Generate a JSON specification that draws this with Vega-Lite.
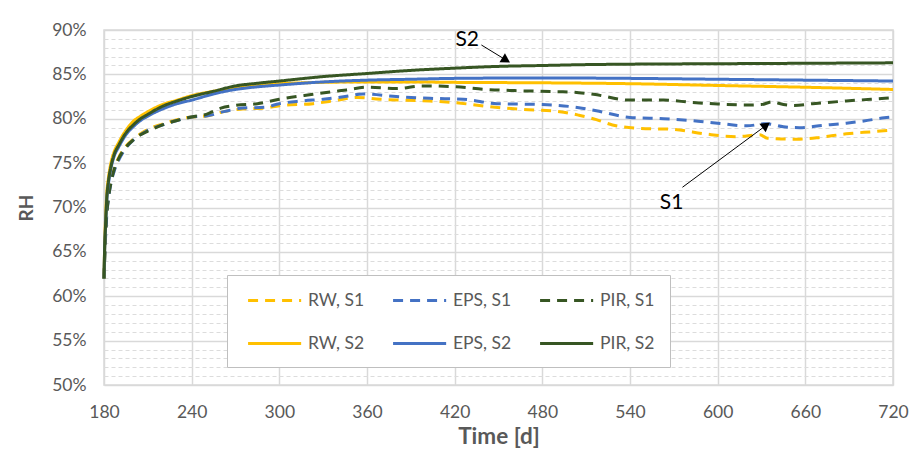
{
  "$schema": "https://vega.github.io/schema/vega-lite/v6.json",
  "width": 789,
  "height": 355,
  "autosize": "none",
  "padding": {"left": 104, "top": 30, "right": 30, "bottom": 76},
  "background": "white",
  "config": {
    "font": "Lato",
    "view": {"stroke": "#d9d9d9", "strokeWidth": 1.5},
    "axis": {"domain": false, "ticks": false, "labelFlush": false, "labelColor": "#595959", "titleColor": "#595959", "labelFontSize": 17.5, "titleFontSize": 22.5, "titleFontWeight": "bold", "gridColor": "#d9d9d9"}
  },
  "datasets": {
    "curves": [
      {"t":180,"v":62.0,"s":"RW, S1"},{"t":181,"v":66.8,"s":"RW, S1"},{"t":182,"v":69.6,"s":"RW, S1"},{"t":183,"v":71.2,"s":"RW, S1"},{"t":185,"v":73.2,"s":"RW, S1"},{"t":187,"v":74.4,"s":"RW, S1"},{"t":190,"v":75.6,"s":"RW, S1"},{"t":195,"v":76.9,"s":"RW, S1"},{"t":200,"v":77.7,"s":"RW, S1"},{"t":205,"v":78.3,"s":"RW, S1"},{"t":210,"v":78.8,"s":"RW, S1"},{"t":220,"v":79.4,"s":"RW, S1"},{"t":230,"v":79.9,"s":"RW, S1"},{"t":240,"v":80.2,"s":"RW, S1"},{"t":250,"v":80.3,"s":"RW, S1"},{"t":262,"v":80.8,"s":"RW, S1"},{"t":275,"v":81.1,"s":"RW, S1"},{"t":290,"v":81.2,"s":"RW, S1"},{"t":300,"v":81.47,"s":"RW, S1"},{"t":323,"v":81.7,"s":"RW, S1"},{"t":340,"v":82.1,"s":"RW, S1"},{"t":353,"v":82.4,"s":"RW, S1"},{"t":369,"v":82.2,"s":"RW, S1"},{"t":403,"v":82.0,"s":"RW, S1"},{"t":421,"v":81.8,"s":"RW, S1"},{"t":442,"v":81.4,"s":"RW, S1"},{"t":465,"v":81.06,"s":"RW, S1"},{"t":492,"v":80.8,"s":"RW, S1"},{"t":505,"v":80.4,"s":"RW, S1"},{"t":517,"v":79.9,"s":"RW, S1"},{"t":528,"v":79.3,"s":"RW, S1"},{"t":547,"v":78.92,"s":"RW, S1"},{"t":570,"v":78.8,"s":"RW, S1"},{"t":592,"v":78.28,"s":"RW, S1"},{"t":613,"v":77.98,"s":"RW, S1"},{"t":629,"v":78.2,"s":"RW, S1"},{"t":634,"v":77.8,"s":"RW, S1"},{"t":654,"v":77.7,"s":"RW, S1"},{"t":670,"v":77.9,"s":"RW, S1"},{"t":688,"v":78.3,"s":"RW, S1"},{"t":706,"v":78.54,"s":"RW, S1"},{"t":720,"v":78.73,"s":"RW, S1"},

      {"t":180,"v":62.0,"s":"EPS, S1"},{"t":181,"v":66.4,"s":"EPS, S1"},{"t":182,"v":69.3,"s":"EPS, S1"},{"t":183,"v":70.9,"s":"EPS, S1"},{"t":185,"v":72.9,"s":"EPS, S1"},{"t":187,"v":74.1,"s":"EPS, S1"},{"t":190,"v":75.3,"s":"EPS, S1"},{"t":195,"v":76.7,"s":"EPS, S1"},{"t":200,"v":77.6,"s":"EPS, S1"},{"t":205,"v":78.2,"s":"EPS, S1"},{"t":210,"v":78.7,"s":"EPS, S1"},{"t":220,"v":79.3,"s":"EPS, S1"},{"t":230,"v":79.8,"s":"EPS, S1"},{"t":240,"v":80.2,"s":"EPS, S1"},{"t":250,"v":80.3,"s":"EPS, S1"},{"t":262,"v":80.8,"s":"EPS, S1"},{"t":275,"v":81.2,"s":"EPS, S1"},{"t":290,"v":81.3,"s":"EPS, S1"},{"t":300,"v":81.7,"s":"EPS, S1"},{"t":315,"v":82.0,"s":"EPS, S1"},{"t":330,"v":82.2,"s":"EPS, S1"},{"t":345,"v":82.5,"s":"EPS, S1"},{"t":357,"v":82.8,"s":"EPS, S1"},{"t":380,"v":82.5,"s":"EPS, S1"},{"t":403,"v":82.3,"s":"EPS, S1"},{"t":426,"v":82.2,"s":"EPS, S1"},{"t":449,"v":81.7,"s":"EPS, S1"},{"t":480,"v":81.6,"s":"EPS, S1"},{"t":505,"v":81.25,"s":"EPS, S1"},{"t":517,"v":80.9,"s":"EPS, S1"},{"t":540,"v":80.15,"s":"EPS, S1"},{"t":563,"v":80.0,"s":"EPS, S1"},{"t":582,"v":79.8,"s":"EPS, S1"},{"t":600,"v":79.5,"s":"EPS, S1"},{"t":620,"v":79.2,"s":"EPS, S1"},{"t":633,"v":79.45,"s":"EPS, S1"},{"t":645,"v":79.1,"s":"EPS, S1"},{"t":656,"v":79.0,"s":"EPS, S1"},{"t":672,"v":79.25,"s":"EPS, S1"},{"t":688,"v":79.5,"s":"EPS, S1"},{"t":700,"v":79.75,"s":"EPS, S1"},{"t":714,"v":80.1,"s":"EPS, S1"},{"t":720,"v":80.2,"s":"EPS, S1"},

      {"t":180,"v":62.0,"s":"PIR, S1"},{"t":181,"v":66.6,"s":"PIR, S1"},{"t":182,"v":69.5,"s":"PIR, S1"},{"t":183,"v":71.0,"s":"PIR, S1"},{"t":185,"v":73.0,"s":"PIR, S1"},{"t":187,"v":74.3,"s":"PIR, S1"},{"t":190,"v":75.5,"s":"PIR, S1"},{"t":195,"v":76.8,"s":"PIR, S1"},{"t":200,"v":77.6,"s":"PIR, S1"},{"t":205,"v":78.2,"s":"PIR, S1"},{"t":210,"v":78.6,"s":"PIR, S1"},{"t":220,"v":79.3,"s":"PIR, S1"},{"t":230,"v":79.8,"s":"PIR, S1"},{"t":240,"v":80.2,"s":"PIR, S1"},{"t":250,"v":80.5,"s":"PIR, S1"},{"t":260,"v":81.2,"s":"PIR, S1"},{"t":270,"v":81.5,"s":"PIR, S1"},{"t":285,"v":81.7,"s":"PIR, S1"},{"t":300,"v":82.2,"s":"PIR, S1"},{"t":323,"v":82.75,"s":"PIR, S1"},{"t":346,"v":83.25,"s":"PIR, S1"},{"t":360,"v":83.55,"s":"PIR, S1"},{"t":380,"v":83.4,"s":"PIR, S1"},{"t":398,"v":83.7,"s":"PIR, S1"},{"t":421,"v":83.6,"s":"PIR, S1"},{"t":442,"v":83.3,"s":"PIR, S1"},{"t":465,"v":83.15,"s":"PIR, S1"},{"t":490,"v":83.05,"s":"PIR, S1"},{"t":505,"v":82.94,"s":"PIR, S1"},{"t":515,"v":82.75,"s":"PIR, S1"},{"t":540,"v":82.1,"s":"PIR, S1"},{"t":563,"v":82.1,"s":"PIR, S1"},{"t":582,"v":81.85,"s":"PIR, S1"},{"t":600,"v":81.66,"s":"PIR, S1"},{"t":620,"v":81.55,"s":"PIR, S1"},{"t":630,"v":81.6,"s":"PIR, S1"},{"t":637,"v":81.9,"s":"PIR, S1"},{"t":645,"v":81.6,"s":"PIR, S1"},{"t":652,"v":81.5,"s":"PIR, S1"},{"t":665,"v":81.7,"s":"PIR, S1"},{"t":688,"v":82.0,"s":"PIR, S1"},{"t":705,"v":82.2,"s":"PIR, S1"},{"t":720,"v":82.37,"s":"PIR, S1"},

      {"t":180,"v":62.0,"s":"RW, S2"},{"t":180.5,"v":66.0,"s":"RW, S2"},{"t":181,"v":68.5,"s":"RW, S2"},{"t":182,"v":71.8,"s":"RW, S2"},{"t":183,"v":73.3,"s":"RW, S2"},{"t":185,"v":75.2,"s":"RW, S2"},{"t":187,"v":76.3,"s":"RW, S2"},{"t":190,"v":77.3,"s":"RW, S2"},{"t":195,"v":78.7,"s":"RW, S2"},{"t":200,"v":79.7,"s":"RW, S2"},{"t":205,"v":80.3,"s":"RW, S2"},{"t":210,"v":80.8,"s":"RW, S2"},{"t":220,"v":81.6,"s":"RW, S2"},{"t":230,"v":82.1,"s":"RW, S2"},{"t":240,"v":82.6,"s":"RW, S2"},{"t":255,"v":83.1,"s":"RW, S2"},{"t":270,"v":83.5,"s":"RW, S2"},{"t":285,"v":83.8,"s":"RW, S2"},{"t":300,"v":83.95,"s":"RW, S2"},{"t":330,"v":84.1,"s":"RW, S2"},{"t":360,"v":84.15,"s":"RW, S2"},{"t":390,"v":84.15,"s":"RW, S2"},{"t":420,"v":84.1,"s":"RW, S2"},{"t":480,"v":84.05,"s":"RW, S2"},{"t":540,"v":83.95,"s":"RW, S2"},{"t":600,"v":83.75,"s":"RW, S2"},{"t":660,"v":83.55,"s":"RW, S2"},{"t":720,"v":83.3,"s":"RW, S2"},

      {"t":180,"v":62.0,"s":"EPS, S2"},{"t":180.5,"v":65.5,"s":"EPS, S2"},{"t":181,"v":67.5,"s":"EPS, S2"},{"t":182,"v":71.0,"s":"EPS, S2"},{"t":183,"v":72.6,"s":"EPS, S2"},{"t":185,"v":74.6,"s":"EPS, S2"},{"t":187,"v":75.8,"s":"EPS, S2"},{"t":190,"v":76.8,"s":"EPS, S2"},{"t":195,"v":78.2,"s":"EPS, S2"},{"t":200,"v":79.1,"s":"EPS, S2"},{"t":205,"v":79.8,"s":"EPS, S2"},{"t":210,"v":80.3,"s":"EPS, S2"},{"t":220,"v":81.1,"s":"EPS, S2"},{"t":230,"v":81.7,"s":"EPS, S2"},{"t":240,"v":82.1,"s":"EPS, S2"},{"t":255,"v":82.8,"s":"EPS, S2"},{"t":270,"v":83.3,"s":"EPS, S2"},{"t":285,"v":83.6,"s":"EPS, S2"},{"t":300,"v":83.8,"s":"EPS, S2"},{"t":330,"v":84.15,"s":"EPS, S2"},{"t":360,"v":84.35,"s":"EPS, S2"},{"t":390,"v":84.45,"s":"EPS, S2"},{"t":420,"v":84.55,"s":"EPS, S2"},{"t":480,"v":84.6,"s":"EPS, S2"},{"t":540,"v":84.55,"s":"EPS, S2"},{"t":600,"v":84.45,"s":"EPS, S2"},{"t":660,"v":84.35,"s":"EPS, S2"},{"t":720,"v":84.25,"s":"EPS, S2"},

      {"t":180,"v":62.0,"s":"PIR, S2"},{"t":180.5,"v":65.8,"s":"PIR, S2"},{"t":181,"v":67.8,"s":"PIR, S2"},{"t":182,"v":71.3,"s":"PIR, S2"},{"t":183,"v":72.9,"s":"PIR, S2"},{"t":185,"v":74.8,"s":"PIR, S2"},{"t":187,"v":76.0,"s":"PIR, S2"},{"t":190,"v":77.0,"s":"PIR, S2"},{"t":195,"v":78.4,"s":"PIR, S2"},{"t":200,"v":79.3,"s":"PIR, S2"},{"t":205,"v":80.0,"s":"PIR, S2"},{"t":210,"v":80.5,"s":"PIR, S2"},{"t":220,"v":81.4,"s":"PIR, S2"},{"t":230,"v":82.0,"s":"PIR, S2"},{"t":240,"v":82.5,"s":"PIR, S2"},{"t":255,"v":83.1,"s":"PIR, S2"},{"t":270,"v":83.7,"s":"PIR, S2"},{"t":285,"v":84.0,"s":"PIR, S2"},{"t":300,"v":84.25,"s":"PIR, S2"},{"t":330,"v":84.75,"s":"PIR, S2"},{"t":360,"v":85.1,"s":"PIR, S2"},{"t":390,"v":85.45,"s":"PIR, S2"},{"t":420,"v":85.7,"s":"PIR, S2"},{"t":450,"v":85.9,"s":"PIR, S2"},{"t":480,"v":86.0,"s":"PIR, S2"},{"t":510,"v":86.1,"s":"PIR, S2"},{"t":540,"v":86.15,"s":"PIR, S2"},{"t":600,"v":86.2,"s":"PIR, S2"},{"t":660,"v":86.25,"s":"PIR, S2"},{"t":720,"v":86.3,"s":"PIR, S2"}
    ],
    "labels": [
      {"t": 428.6, "v": 88.82, "label": "S2"},
      {"t": 568.5, "v": 70.56, "label": "S1"}
    ],
    "arrows": [
      {"t": 438.3, "v": 88.31, "t2": 455.2, "v2": 86.61},
      {"t": 575.9, "v": 72.28, "t2": 633.2, "v2": 79.26}
    ],
    "headS2": [{"t": 455.2, "v": 86.61}],
    "headS1": [{"t": 633.2, "v": 79.26}]
  },
  "layer": [
    {
      "data": {"name": "curves"},
      "mark": {"type": "line", "strokeWidth": 3, "interpolate": "monotone"},
      "encoding": {
        "x": {
          "field": "t", "type": "quantitative",
          "scale": {"domain": [180, 720], "nice": false, "zero": false},
          "axis": {"title": "Time [d]", "values": [180, 240, 300, 360, 420, 480, 540, 600, 660, 720], "tickCount": 20, "labelPadding": 18, "titlePadding": 5, "gridWidth": 1.5}
        },
        "y": {
          "field": "v", "type": "quantitative",
          "scale": {"domain": [50, 90], "nice": false, "zero": false},
          "axis": {
            "title": "RH",
            "titleFontSize": 19,
            "tickCount": 200,
            "values": [50,51,52,53,54,55,56,57,58,59,60,61,62,63,64,65,66,67,68,69,70,71,72,73,74,75,76,77,78,79,80,81,82,83,84,85,86,87,88,89,90],
            "labelExpr": "datum.value % 5 === 0 ? datum.value + '%' : ''",
            "labelOverlap": false,
            "labelPadding": 18,
            "titlePadding": 15,
            "gridDash": {"condition": {"test": "datum.value % 5 === 0", "value": []}, "value": [4, 3]},
            "gridWidth": {"condition": {"test": "datum.value % 5 === 0", "value": 1.5}, "value": 1},
            "gridColor": {"condition": {"test": "datum.value % 5 === 0", "value": "#d9d9d9"}, "value": "#dcdcdc"}
          }
        },
        "color": {
          "field": "s", "type": "nominal",
          "scale": {"domain": ["RW, S1", "EPS, S1", "PIR, S1", "RW, S2", "EPS, S2", "PIR, S2"], "range": ["#FFC000", "#4472C4", "#375623", "#FFC000", "#4472C4", "#375623"]},
          "legend": {
            "title": null, "orient": "none", "legendX": 123, "legendY": 245,
            "direction": "horizontal", "columns": 3,
            "symbolType": "M-0.5,0H5.5", "symbolSize": 313, "symbolStrokeWidth": 3,
            "labelFontSize": 17.5, "labelColor": "#595959", "labelOffset": 45,
            "columnPadding": 22, "rowPadding": 24, "padding": 15,
            "strokeColor": "#bfbfbf", "fillColor": "white"
          }
        },
        "strokeDash": {
          "field": "s", "type": "nominal",
          "scale": {"domain": ["RW, S1", "EPS, S1", "PIR, S1", "RW, S2", "EPS, S2", "PIR, S2"], "range": [[10, 7], [10, 7], [10, 7], [1, 0], [1, 0], [1, 0]]},
          "legend": {
            "title": null, "orient": "none", "legendX": 123, "legendY": 245,
            "direction": "horizontal", "columns": 3,
            "symbolType": "M-0.5,0H5.5", "symbolSize": 313, "symbolStrokeWidth": 3,
            "labelFontSize": 17.5, "labelColor": "#595959", "labelOffset": 45,
            "columnPadding": 22, "rowPadding": 24, "padding": 15,
            "strokeColor": "#bfbfbf", "fillColor": "white"
          }
        }
      }
    },
    {
      "data": {"name": "arrows"},
      "mark": {"type": "rule", "color": "black", "strokeWidth": 1},
      "encoding": {
        "x": {"field": "t", "type": "quantitative"},
        "y": {"field": "v", "type": "quantitative"},
        "x2": {"field": "t2"},
        "y2": {"field": "v2"}
      }
    },
    {
      "data": {"name": "headS2"},
      "mark": {"type": "point", "shape": "triangle-up", "filled": true, "color": "black", "size": 110, "angle": 121.4, "opacity": 1},
      "encoding": {
        "x": {"field": "t", "type": "quantitative"},
        "y": {"field": "v", "type": "quantitative"}
      }
    },
    {
      "data": {"name": "headS1"},
      "mark": {"type": "point", "shape": "triangle-up", "filled": true, "color": "black", "size": 110, "angle": 53.5, "opacity": 1},
      "encoding": {
        "x": {"field": "t", "type": "quantitative"},
        "y": {"field": "v", "type": "quantitative"}
      }
    },
    {
      "data": {"name": "labels"},
      "mark": {"type": "text", "fontSize": 21, "color": "black", "align": "center", "baseline": "middle"},
      "encoding": {
        "x": {"field": "t", "type": "quantitative"},
        "y": {"field": "v", "type": "quantitative"},
        "text": {"field": "label"}
      }
    }
  ]
}
